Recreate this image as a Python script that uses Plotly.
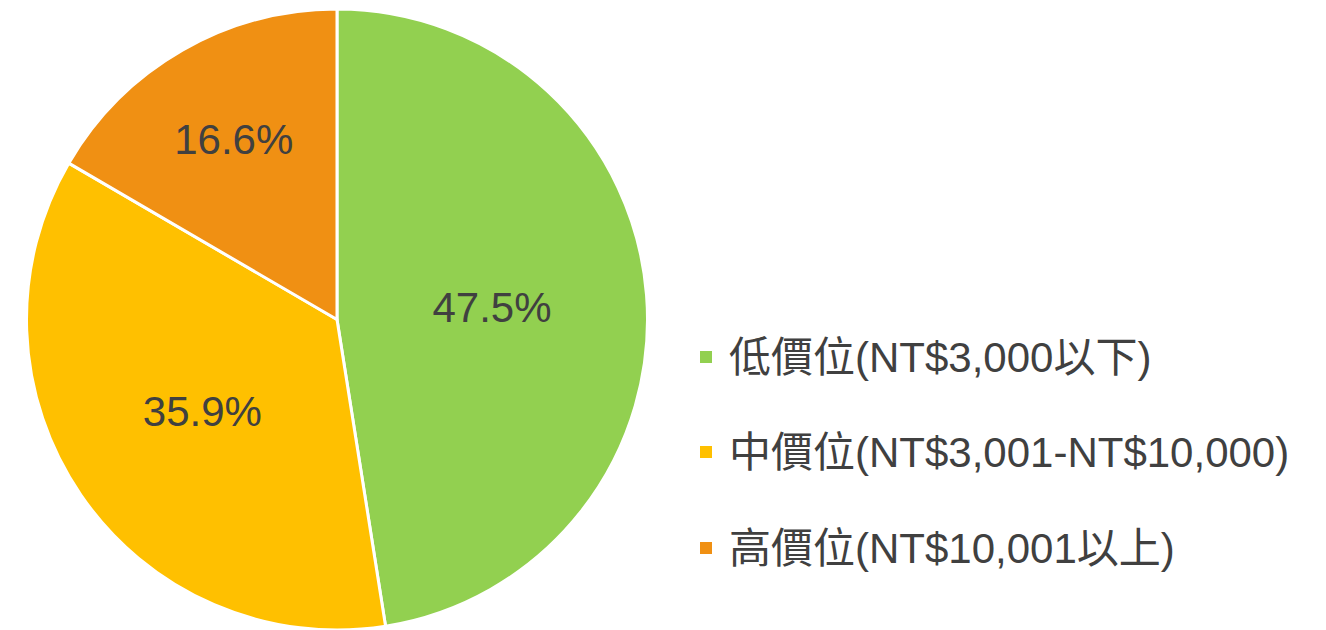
import plotly.graph_objects as go

labels = ["低價位(NT$3,000以下)", "中價位(NT$3,001-NT$10,000)", "高價位(NT$10,001以上)"]
values = [47.5, 35.9, 16.6]
colors = ["#92D050", "#FFC000", "#F09013"]

W, H = 1326, 630
TOP = 9
FONT = "Liberation Sans, Arial, Noto Sans CJK TC, sans-serif"
TXT = "#404040"

fig = go.Figure()
fig.add_trace(go.Pie(
    labels=labels,
    values=values,
    sort=False,
    direction="clockwise",
    rotation=0,
    marker=dict(colors=colors, line=dict(color="white", width=3)),
    texttemplate="%{value:.1f}%",
    textposition="inside",
    insidetextorientation="horizontal",
    textfont=dict(family=FONT, size=42, color=TXT),
    showlegend=False,
    hoverinfo="label+value",
    domain=dict(x=[26 / W, 648 / W], y=[0, 1]),
))

def py(pix):
    return (H - pix) / (H - TOP)

legend_rows = [357, 452, 548]
for lab, col, yc in zip(labels, colors, legend_rows):
    fig.add_shape(type="rect", xref="paper", yref="paper",
                  x0=700 / W, x1=712 / W, y0=py(yc + 6), y1=py(yc - 6),
                  fillcolor=col, line=dict(width=0))
    fig.add_annotation(xref="paper", yref="paper", x=727 / W, y=py(yc),
                       xanchor="left", yanchor="middle", showarrow=False,
                       text=lab, font=dict(family=FONT, size=42, color=TXT))

fig.update_layout(
    width=W, height=H,
    margin=dict(l=0, r=0, t=TOP, b=0),
    paper_bgcolor="white", plot_bgcolor="white",
)
fig.write_html("out.html",
               config={"displayModeBar": False},
               post_script="document.body.style.margin='0px';document.body.style.overflow='hidden';")
